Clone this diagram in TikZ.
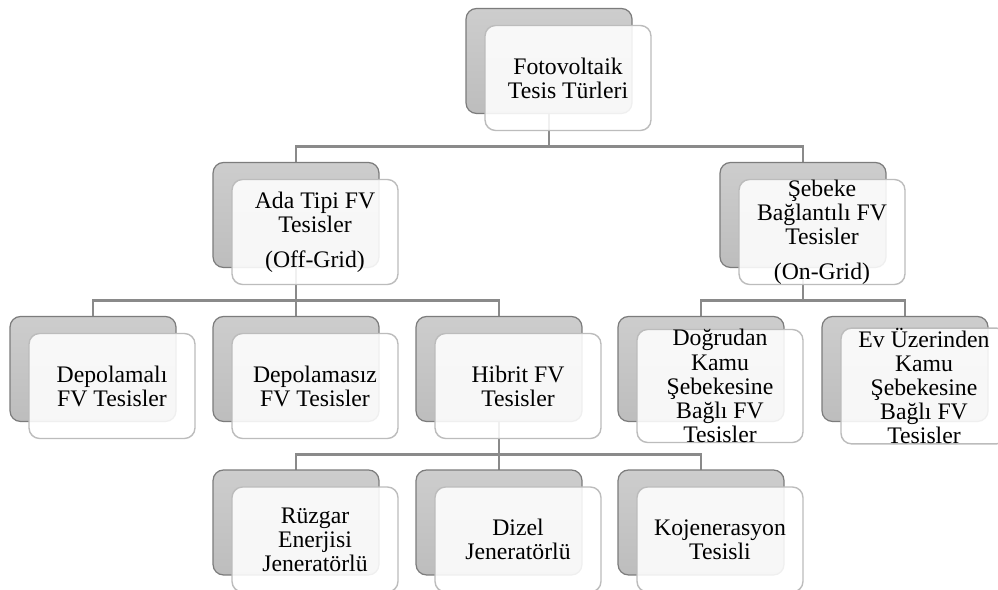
\documentclass[tikz,border=0pt]{standalone}
\usepackage{fontspec}
\setmainfont{Liberation Serif}
\usetikzlibrary{positioning,calc,backgrounds}
\definecolor{Shade}{HTML}{CDCDCD}
\definecolor{ShadeDark}{HTML}{BDBDBD}
\definecolor{ShadeLine}{HTML}{7C7C7C}
\definecolor{CardLine}{HTML}{BCBCBC}
\definecolor{Bus}{HTML}{8A8A8A}
\tikzset{
  backbox/.style={draw=ShadeLine,top color=Shade,bottom color=ShadeDark,rounded corners=6pt,minimum width=3.32cm,minimum height=2.1cm,inner sep=0pt,line width=0.7pt},
  frontbox/.style={draw=CardLine,fill=white,fill opacity=0.88,text opacity=1,rounded corners=6pt,minimum width=3.32cm,minimum height=2.1cm,inner sep=0pt,align=center,line width=0.8pt,font=\fontsize{13.5}{13.7}\selectfont},
  conn/.style={draw=Bus,line width=1.5pt}
}

\begin{document}
\begin{tikzpicture}[x=0.02cm,y=-0.02cm]
  \useasboundingbox (0,0) rectangle (998,590);
  % top
  \node[backbox] (top) at (549,61) {};
  \node[frontbox] (topf) at ([shift={(19,17)}]top) {Fotovoltaik\\Tesis Türleri};
  % level 1
  \node[backbox] (ada) at (296,215) {};
  \node[frontbox] (adaf) at ([shift={(19,17)}]ada) {Ada Tipi FV\\Tesisler\\[6pt](Off-Grid)};
  \node[backbox] (seb) at (803,215) {};
  \node[frontbox] (sebf) at ([shift={(19,17)}]seb) {Şebeke\\Bağlantılı FV\\Tesisler\\[6pt](On-Grid)};
  % level 2
  \node[backbox] (dep) at (93,369) {};
  \node[frontbox] (depf) at ([shift={(19,17)}]dep) {Depolamalı\\FV Tesisler};
  \node[backbox] (depz) at (296,369) {};
  \node[frontbox] (depzf) at ([shift={(19,17)}]depz) {Depolamasız\\FV Tesisler};
  \node[backbox] (hib) at (499,369) {};
  \node[frontbox] (hibf) at ([shift={(19,17)}]hib) {Hibrit FV\\Tesisler};
  \node[backbox] (dog) at (701,369) {};
  \node[frontbox] (dogf) at ([shift={(19,17)}]dog) {Doğrudan\\Kamu\\Şebekesine\\Bağlı FV\\Tesisler};
  \node[backbox] (ev) at (905,369) {};
  \node[frontbox] (evf) at ([shift={(19,17)}]ev) {Ev Üzerinden\\Kamu\\Şebekesine\\Bağlı FV\\Tesisler};
  % level 3
  \node[backbox] (ruz) at (296,522.5) {};
  \node[frontbox] (ruzf) at ([shift={(19,17)}]ruz) {Rüzgar\\Enerjisi\\Jeneratörlü};
  \node[backbox] (diz) at (499,522.5) {};
  \node[frontbox] (dizf) at ([shift={(19,17)}]diz) {Dizel\\Jeneratörlü};
  \node[backbox] (koj) at (701,522.5) {};
  \node[frontbox] (kojf) at ([shift={(19,17)}]koj) {Kojenerasyon\\Tesisli};
  % connectors
  \begin{scope}[on background layer]
    \fill[white] (0,0) rectangle (998,590);
    \coordinate (bus1) at ($(topf.south)!0.5!(ada.north)$);
    \coordinate (bus2) at ($(adaf.south)!0.5!(dep.north)$);
    \coordinate (bus3) at ($(hibf.south)!0.5!(ruz.north)$);
    \foreach \c in {ada,seb} \draw[conn] (top.center) -- (top |- bus1) -| (\c.center);
    \foreach \c in {dep,depz,hib} \draw[conn] (ada.center) -- (ada |- bus2) -| (\c.center);
    \foreach \c in {dog,ev} \draw[conn] (seb.center) -- (seb |- bus2) -| (\c.center);
    \foreach \c in {ruz,diz,koj} \draw[conn] (hib.center) -- (hib |- bus3) -| (\c.center);
  \end{scope}
\end{tikzpicture}
\end{document}
